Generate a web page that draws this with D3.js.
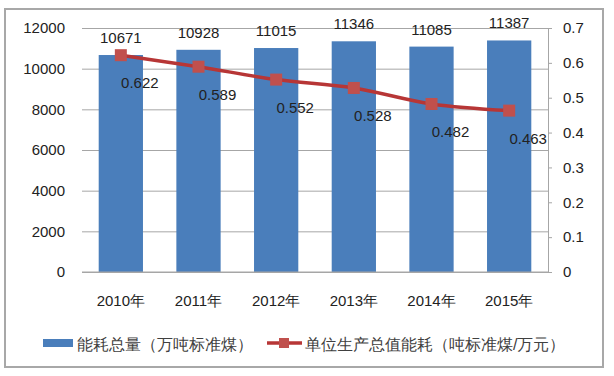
<!DOCTYPE html>
<html>
<head>
<meta charset="utf-8">
<script src="https://cdn.jsdelivr.net/npm/d3@7"></script>
<style>
body{margin:0;background:#fff;}
text{font-family:"Liberation Sans",Arial,sans-serif;}
</style>
</head>
<body>
<div id="chart"></div>
<script>
var years=["2010年","2011年","2012年","2013年","2014年","2015年"];
var totalEnergy=[10671,10928,11015,11346,11085,11387];
var unitEnergy=[0.622,0.589,0.552,0.528,0.482,0.463];
var leftTicks=[0,2000,4000,6000,8000,10000,12000];
var rightTicks=[0,0.1,0.2,0.3,0.4,0.5,0.6,0.7];
var legendNames=["能耗总量（万吨标准煤）","单位生产总值能耗（吨标准煤/万元）"];

var w=614,h=376;
var plot={left:82,right:548,top:28,bottom:272};
var fontSize="15px";

var svg=d3.select("#chart").append("svg")
          .attr("width",w)
          .attr("height",h);

//outer frame
svg.append("rect")
   .attr("x",5).attr("y",9)
   .attr("width",598).attr("height",358)
   .attr("fill","#fff")
   .attr("stroke","#a8a8a8")
   .attr("stroke-width",2);

var x=d3.scaleBand()
        .domain(years)
        .range([plot.left,plot.right])
        .paddingInner(0.43)
        .paddingOuter(0.215);

var yLeft=d3.scaleLinear().domain([0,12000]).range([plot.bottom,plot.top]);
var yRight=d3.scaleLinear().domain([0,0.7]).range([plot.bottom,plot.top]);

//gridlines
svg.append("g")
   .attr("class","grid")
   .attr("transform","translate("+plot.left+",0)")
   .call(d3.axisLeft(yLeft).tickValues(leftTicks).tickSize(-(plot.right-plot.left)).tickFormat(""))
   .call(function(g){
       g.select(".domain").remove();
       g.selectAll("line").attr("stroke","#a6a6a6");
   });

//left axis labels
svg.append("g")
   .attr("transform","translate("+plot.left+",0)")
   .call(d3.axisLeft(yLeft).tickValues(leftTicks).tickSize(0).tickPadding(17).tickFormat(d3.format("d")))
   .call(function(g){
       g.select(".domain").remove();
       g.selectAll("text").attr("font-size",fontSize).attr("fill","#222")
        .attr("font-family","'Liberation Sans',Arial,sans-serif");
   });

//right axis
svg.append("g")
   .attr("transform","translate("+plot.right+",0)")
   .call(d3.axisRight(yRight).tickValues(rightTicks).tickSize(4).tickPadding(11).tickFormat(function(d){return d===0?"0":d3.format(".1f")(d);}))
   .call(function(g){
       g.select(".domain").attr("stroke","#a6a6a6");
       g.selectAll("line").attr("stroke","#a6a6a6");
       g.selectAll("text").attr("font-size",fontSize).attr("fill","#222")
        .attr("font-family","'Liberation Sans',Arial,sans-serif");
   });

//bars
svg.append("g")
   .selectAll("rect")
   .data(totalEnergy)
   .enter()
   .append("rect")
   .attr("x",function(d,i){return x(years[i]);})
   .attr("y",function(d){return yLeft(d);})
   .attr("width",x.bandwidth())
   .attr("height",function(d){return yLeft(0)-yLeft(d);})
   .attr("fill","#4a7ebb");

//redraw the zero line above the bars
svg.append("line")
   .attr("x1",plot.left).attr("x2",plot.right)
   .attr("y1",yLeft(0)).attr("y2",yLeft(0))
   .attr("stroke","#a6a6a6");

//bar value labels
svg.append("g")
   .selectAll("text")
   .data(totalEnergy)
   .enter()
   .append("text")
   .attr("x",function(d,i){return x(years[i])+x.bandwidth()/2;})
   .attr("y",function(d){return yLeft(d)-12;})
   .attr("text-anchor","middle")
   .attr("font-size",fontSize)
   .attr("fill","#222")
   .text(function(d){return d;});

//line
var cx=function(i){return x(years[i])+x.bandwidth()/2;};
var line=d3.line()
           .x(function(d,i){return cx(i);})
           .y(function(d){return yRight(d);})
           .curve(d3.curveMonotoneX);

svg.append("path")
   .datum(unitEnergy)
   .attr("d",line)
   .attr("fill","none")
   .attr("stroke","#b73636")
   .attr("stroke-width",3.5);

svg.append("g")
   .selectAll("rect")
   .data(unitEnergy)
   .enter()
   .append("rect")
   .attr("x",function(d,i){return cx(i)-6;})
   .attr("y",function(d){return yRight(d)-6;})
   .attr("width",12)
   .attr("height",12)
   .attr("fill","#c0504d");

//line value labels
svg.append("g")
   .selectAll("text")
   .data(unitEnergy)
   .enter()
   .append("text")
   .attr("x",function(d,i){return cx(i)+19;})
   .attr("y",function(d){return yRight(d)+33;})
   .attr("text-anchor","middle")
   .attr("font-size",fontSize)
   .attr("fill","#222")
   .text(function(d){return d3.format(".3f")(d);});

//x labels
svg.append("g")
   .selectAll("text")
   .data(years)
   .enter()
   .append("text")
   .attr("x",function(d){return x(d)+x.bandwidth()/2;})
   .attr("y",306)
   .attr("text-anchor","middle")
   .attr("font-size",fontSize)
   .attr("fill","#222")
   .text(function(d){return d;});

//legend
var legend=svg.append("g").attr("class","legend");
legend.append("rect")
      .attr("x",43).attr("y",339)
      .attr("width",30).attr("height",8)
      .attr("fill","#4a7ebb");
legend.append("text")
      .attr("x",77).attr("y",344)
      .attr("dominant-baseline","central")
      .attr("font-size","16px")
      .attr("font-family","'Noto Sans CJK SC',sans-serif")
      .attr("fill","#404040")
      .text(legendNames[0]);
legend.append("line")
      .attr("x1",267).attr("x2",302)
      .attr("y1",343).attr("y2",343)
      .attr("stroke","#b73636")
      .attr("stroke-width",3.5);
legend.append("rect")
      .attr("x",279).attr("y",338)
      .attr("width",10).attr("height",10)
      .attr("fill","#c0504d");
legend.append("text")
      .attr("x",305).attr("y",344)
      .attr("dominant-baseline","central")
      .attr("font-size","16px")
      .attr("font-family","'Noto Sans CJK SC',sans-serif")
      .attr("fill","#404040")
      .text(legendNames[1]);
</script>
</body>
</html>
